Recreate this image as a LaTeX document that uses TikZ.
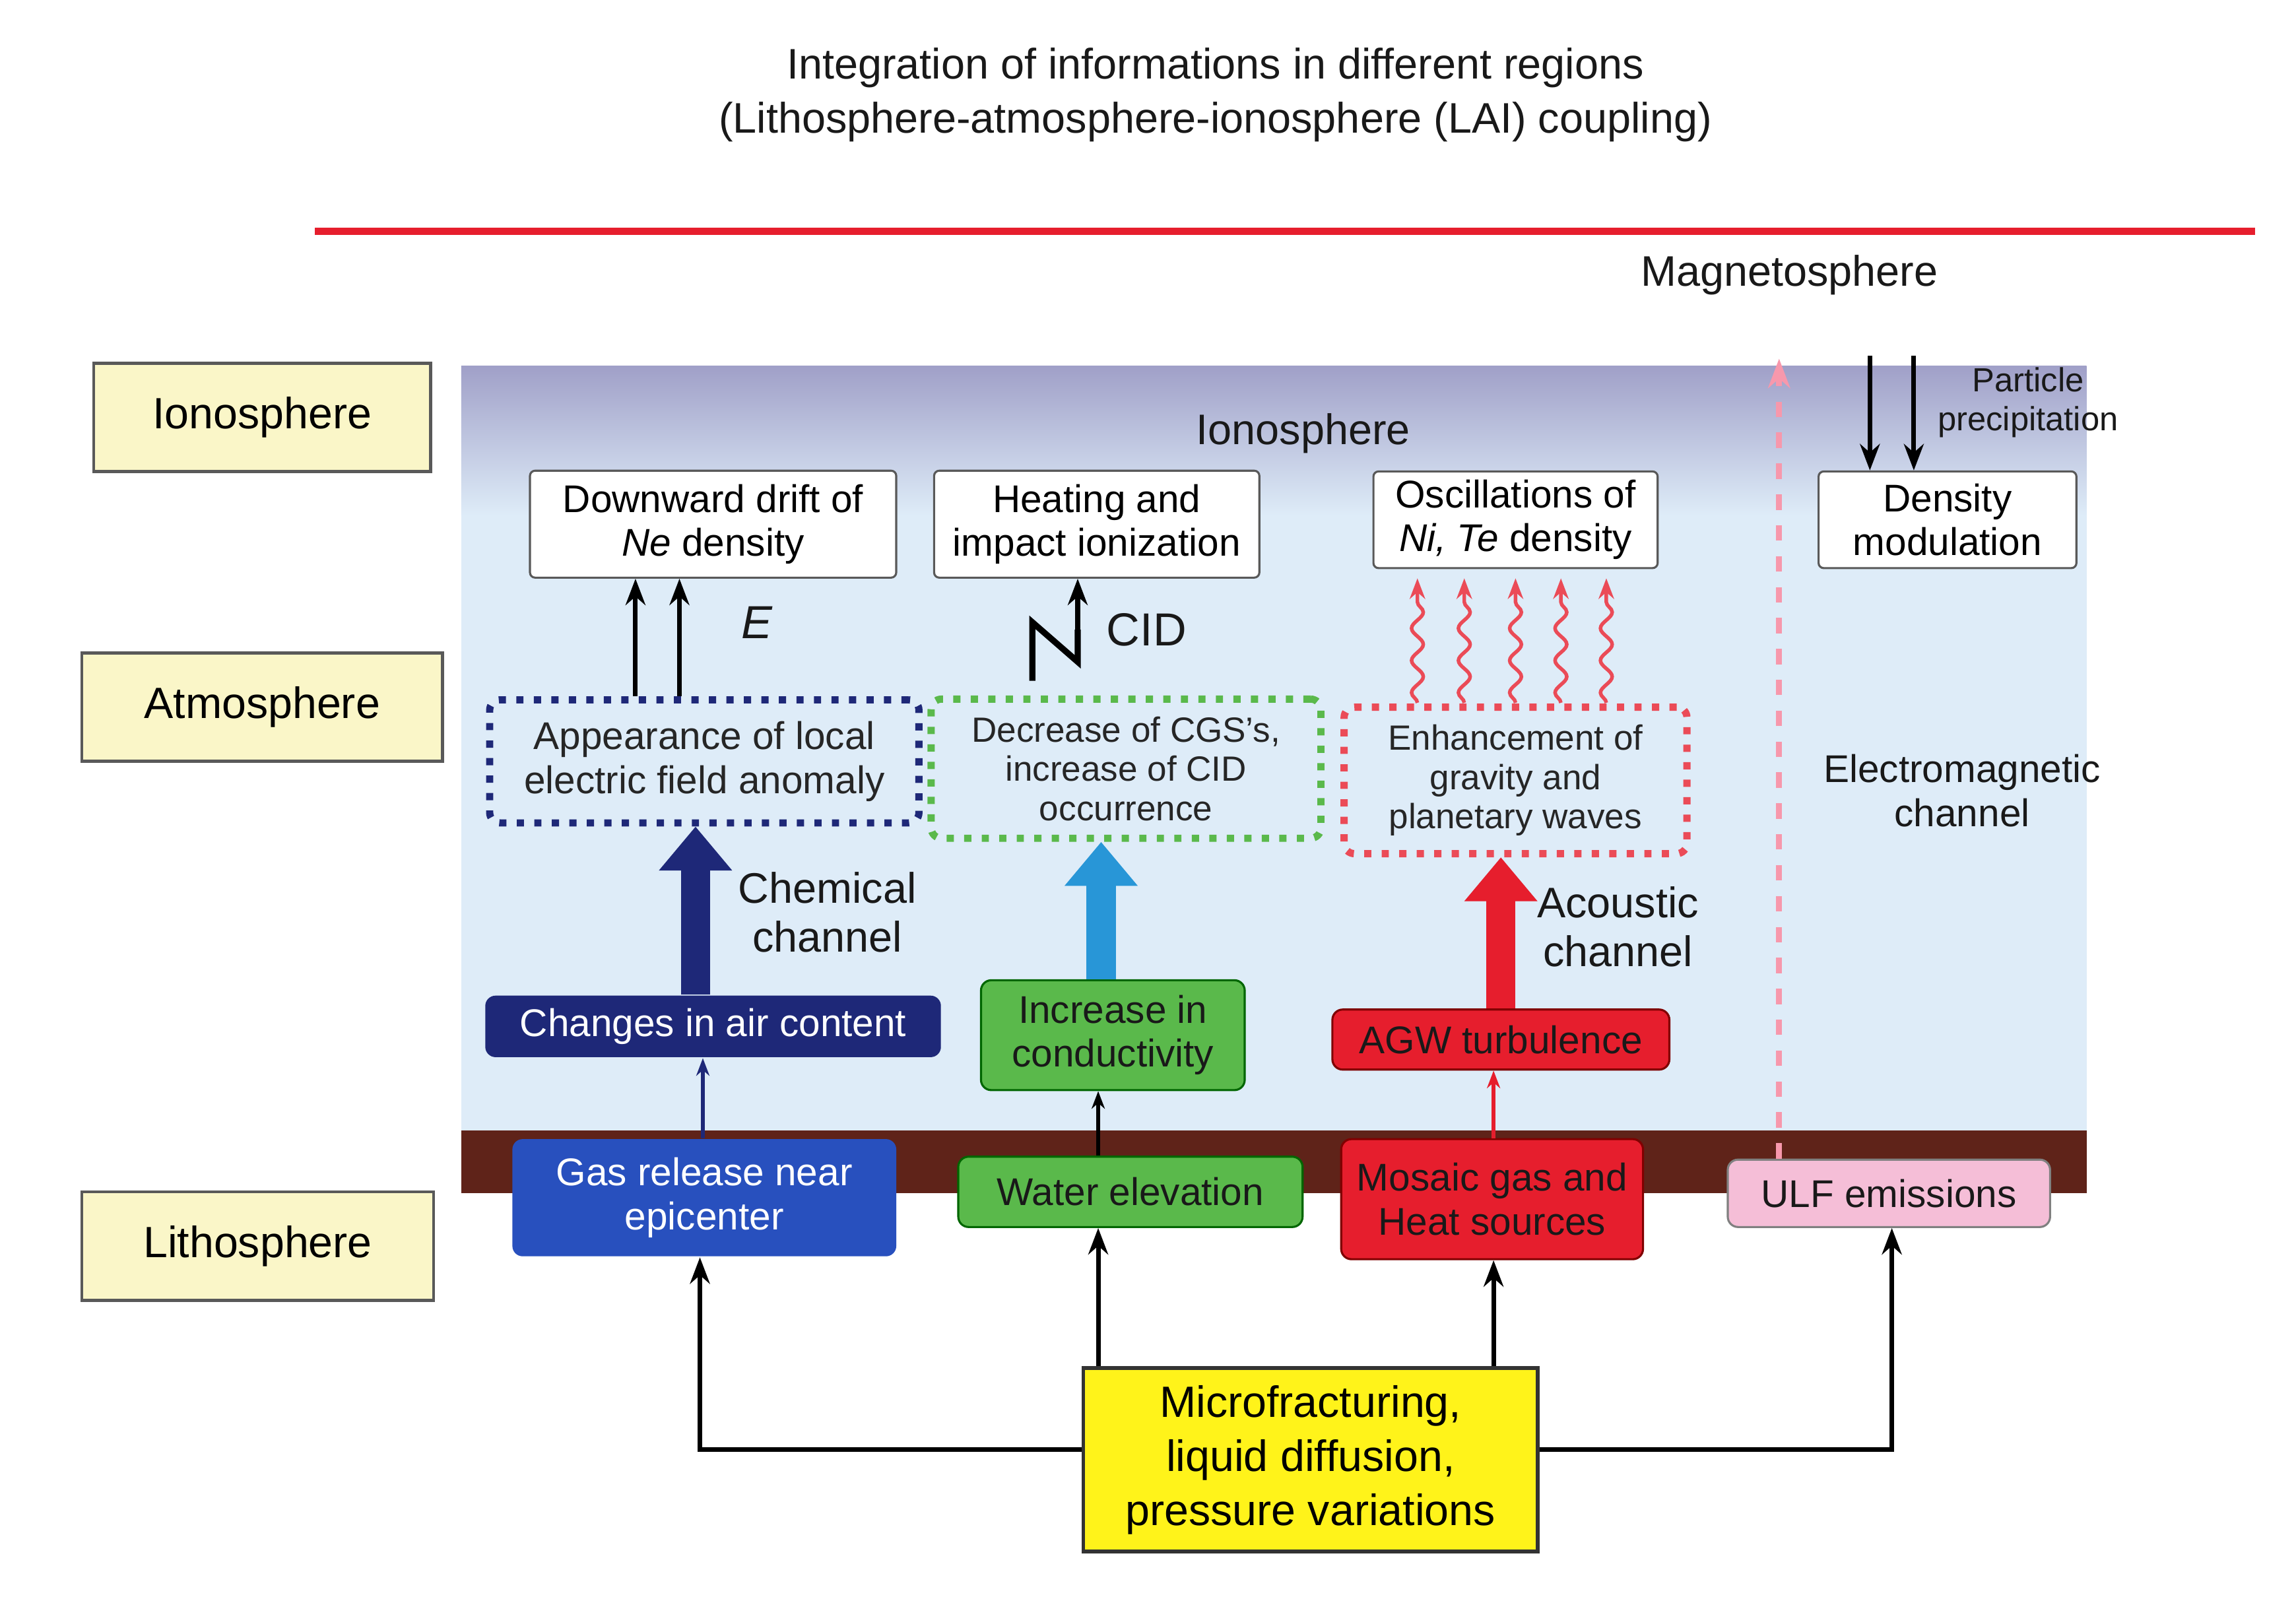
\documentclass[tikz,border=0pt]{standalone}
\usepackage{fontspec}
\setmainfont{Liberation Sans}
\usetikzlibrary{arrows.meta}
\usetikzlibrary{positioning}
\usetikzlibrary{decorations.pathmorphing}
\definecolor{lyellow}{RGB}{250,246,200}
\definecolor{skyb}{RGB}{222,236,248}
\definecolor{ionop}{RGB}{160,160,200}
\definecolor{earth}{RGB}{95,35,25}
\definecolor{navy}{RGB}{30,40,120}
\definecolor{gblue}{RGB}{40,80,190}
\definecolor{ggreen}{RGB}{90,185,75}
\definecolor{gred}{RGB}{230,30,45}
\definecolor{gpink}{RGB}{245,190,215}
\definecolor{cyanb}{RGB}{40,150,215}
\tikzset{
  region/.style={draw=gray!70!black,fill=lyellow,line width=0.6pt,minimum width=2.3cm,minimum height=0.74cm,font=\fontsize{8.5}{10}\selectfont},
  wbox/.style={draw=gray!70!black,fill=white,rounded corners=1pt,align=center,inner sep=1pt,font=\fontsize{7.5}{8.5}\selectfont},
  dbox/.style={dotted,line width=1.4pt,rounded corners=2pt,align=center,inner sep=1pt,font=\fontsize{6.8}{7.6}\selectfont,text=gray!30!black},
  cbox/.style={rounded corners=2pt,align=center,inner sep=1pt,font=\fontsize{7.5}{8.5}\selectfont},
  bigarr/.style={-{Triangle[length=0.3cm,width=0.48cm]},line width=0.2cm},
  blk/.style={-{Stealth[length=0.18cm]},line width=0.9pt},
  lbl/.style={align=center,font=\fontsize{7.5}{8.5}\selectfont,text=gray!20!black}
}
\begin{document}
\begin{tikzpicture}[x=0.01cm,y=-0.01cm]
\useasboundingbox (0,0) rectangle (1568,1092);
\fill[white] (0,0) rectangle (1568,1092);
\node[lbl,font=\fontsize{8.3}{10.5}\selectfont] (title) at (830,65) {Integration of informations in different regions\\(Lithosphere-atmosphere-ionosphere (LAI) coupling)};
\coordinate (redL) at (215,158);
\coordinate (redR) at (1540,158);
\draw[gred,line width=1.5pt] (redL) -- (redR);
% background layers
\fill[skyb] (315,250) rectangle (1425,775);
\shade[top color=ionop,bottom color=skyb] (315,250) rectangle (1425,352);
\fill[earth] (315,772) rectangle (1425,815);
% region labels
\node[region] (ion) at (179,285) {Ionosphere};
\node[region,minimum width=2.46cm] (atm) at (179,483) {Atmosphere};
\node[region,minimum width=2.4cm] (lit) at (176,851) {Lithosphere};
\node[lbl,font=\fontsize{8.3}{10}\selectfont] (ionT) at (890,296) {Ionosphere};
\node[lbl,font=\fontsize{8.3}{10}\selectfont] (mag) at (1222,188) {Magnetosphere};
% ionosphere boxes
\node[wbox,minimum width=2.5cm,minimum height=0.73cm] (drift) at (487,358) {Downward drift of\\\textit{Ne} density};
\node[wbox,minimum width=2.22cm,minimum height=0.73cm] (heat) at (749,358) {Heating and\\impact ionization};
\node[wbox,minimum width=1.94cm,minimum height=0.66cm] (osc) at (1035,355) {Oscillations of\\\textit{Ni, Te} density};
\node[wbox,minimum width=1.76cm,minimum height=0.66cm] (dens) at (1330,355) {Density\\modulation};
% atmosphere boxes
\node[dbox,draw=navy,minimum width=2.93cm,minimum height=0.84cm,font=\fontsize{7.5}{8.5}\selectfont] (elec) at (481,520) {Appearance of local\\electric field anomaly};
\node[dbox,draw=ggreen,minimum width=2.66cm,minimum height=0.95cm] (cgs) at (769,525) {Decrease of CGS's,\\increase of CID\\occurrence};
\node[dbox,draw=gred!80,minimum width=2.34cm,minimum height=1.0cm] (grav) at (1035,533) {Enhancement of\\gravity and\\planetary waves};
\node[lbl] (emch) at (1340,540) {Electromagnetic\\channel};
% channel boxes
\node[cbox,fill=navy,text=white,minimum width=3.11cm,minimum height=0.42cm] (air) at (487,701) {Changes in air content};
\node[cbox,fill=ggreen,draw=green!40!black,text=gray!20!black,minimum width=1.8cm,minimum height=0.75cm] (cond) at (760,707) {Increase in\\conductivity};
\node[cbox,fill=gred,draw=red!50!black,text=gray!20!black,minimum width=2.3cm,minimum height=0.41cm] (agw) at (1025,710) {AGW turbulence};
% lithosphere boxes
\node[cbox,fill=gblue,text=white,minimum width=2.62cm,minimum height=0.8cm] (gas) at (481,818) {Gas release near\\epicenter};
\node[cbox,fill=ggreen,draw=green!40!black,text=gray!20!black,minimum width=2.35cm,minimum height=0.48cm] (water) at (772,814) {Water elevation};
\node[cbox,fill=gred,draw=red!50!black,text=gray!20!black,minimum width=2.06cm,minimum height=0.82cm] (mosaic) at (1019,819) {Mosaic gas and\\Heat sources};
\node[cbox,fill=gpink,draw=gray,text=gray!20!black,minimum width=2.2cm,minimum height=0.46cm] (ulf) at (1290,815) {ULF emissions};
\node[draw=gray!40!black,fill=yellow!90!white,line width=0.7pt,align=center,minimum width=3.1cm,minimum height=1.25cm,font=\fontsize{8.5}{10.5}\selectfont] (micro) at (895,997) {Microfracturing,\\liquid diffusion,\\pressure variations};
% source connectors
\draw[blk] (micro.west |- 0,990) -| (gas.south -| 478,0);
\draw[blk] (micro.north -| 750,0) -- (water.south -| 750,0);
\draw[blk] (micro.north -| 1020,0) -- (mosaic.south -| 1020,0);
\draw[blk] (micro.east |- 0,990) -| (ulf.south -| 1292,0);
% lithosphere to channels
\draw[-{Stealth[length=0.12cm]},navy,line width=0.8pt] (gas.north -| 480,0) -- (air.south -| 480,0);
\draw[-{Stealth[length=0.12cm]},black,line width=0.8pt] (water.north -| 750,0) -- (cond.south -| 750,0);
\draw[-{Stealth[length=0.12cm]},gred,line width=0.8pt] (mosaic.north -| 1020,0) -- (agw.south -| 1020,0);
% channel arrows
\draw[bigarr,navy] (air.north -| 475,0) -- (elec.south -| 475,0);
\draw[bigarr,cyanb] (cond.north -| 752,0) -- (cgs.south -| 752,0);
\draw[bigarr,gred] (agw.north -| 1025,0) -- (grav.south -| 1025,0);
\node[lbl,font=\fontsize{8.3}{9.5}\selectfont] (chem) at (565,623) {Chemical\\channel};
\node[lbl,font=\fontsize{8.3}{9.5}\selectfont] (acou) at (1105,633) {Acoustic\\channel};
% atmosphere to ionosphere
\draw[blk] (elec.north -| 434,0) -- (drift.south -| 434,0);
\draw[blk] (elec.north -| 464,0) -- (drift.south -| 464,0);
\node[lbl,font=\itshape\fontsize{9}{10}\selectfont] (efield) at (517,425) {E};
\coordinate (zz) at (705,465);
\draw[line width=1.2pt] (zz) -- (705,425) -- (736,452) -- (736,430);
\draw[blk] (736,452) -- (heat.south -| 736,0);
\node[lbl,font=\fontsize{9}{10}\selectfont] (cid) at (783,430) {CID};
\foreach \x in {968,1000,1035,1066,1097}
  \draw[-{Stealth[length=0.14cm]},gred!80,line width=0.7pt,decorate,decoration={snake,amplitude=0.04cm,segment length=0.22cm,post length=0.15cm}] (\x,480) -- (\x,395);
% electromagnetic channel
\draw[-{Stealth[length=0.2cm]},gpink!80!red,line width=1.2pt,dashed] (ulf.north -| 1215,0) -- (1215,245);
\draw[blk] (1277,243) -- (dens.north -| 1277,0);
\draw[blk] (1307,243) -- (dens.north -| 1307,0);
\node[lbl,font=\fontsize{6.5}{7.5}\selectfont] (part) at (1385,275) {Particle\\precipitation};
\end{tikzpicture}
\end{document}
